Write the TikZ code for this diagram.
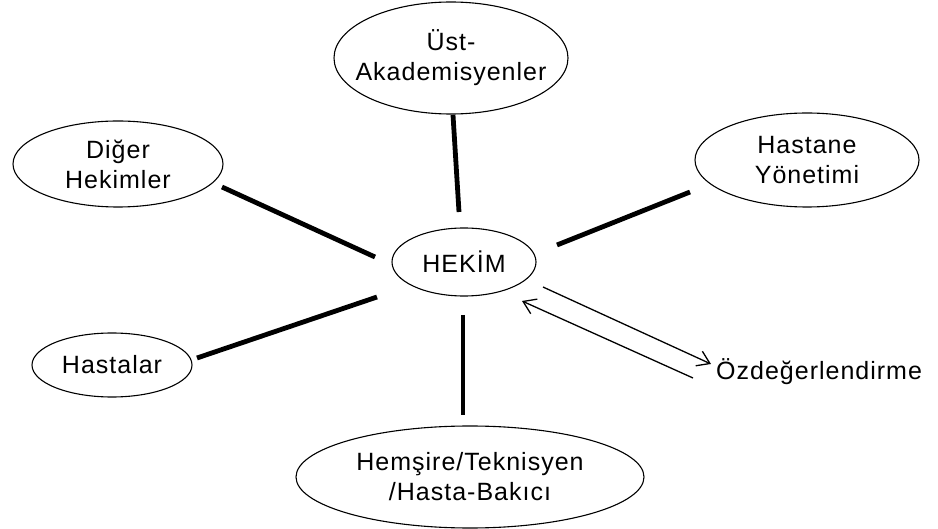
\documentclass[tikz,border=0pt]{standalone}
\usepackage{fontspec}
\setmainfont{Liberation Sans}[LetterSpace=4]
\usetikzlibrary{arrows.meta}
\tikzset{
  labelfont/.style={font=\fontsize{25}{30}\selectfont},
  label text/.style={inner sep=0pt, align=center, labelfont},
  rim/.style={line width=1.1pt},
  tie/.style={line width=4.8pt},
  thin arrow/.style={line width=1.3pt, -{Straight Barb[length=12pt,width=16pt,line width=1.3pt]}},
}
\begin{document}
\begin{tikzpicture}[x=1pt,y=-1pt]
  \useasboundingbox[fill=white] (0,0) rectangle (938,529);

  % surrounding parties
  \node[label text] (ust) at (451,58) {Üst-\\Akademisyenler};
  \node[label text] (diger) at (118,164) {Diğer\\Hekimler};
  \node[label text] (yonetim) at (807,160) {Hastane\\Yönetimi};
  \node[label text] (hasta) at (112,365) {Hastalar};
  \node[label text] (hemsire) at (470,477) {Hemşire/Teknisyen\\/Hasta-Bakıcı};

  % the physician in the middle
  \node[label text] (hekim) at (464,262) {HEKİM};

  % outlines round the labels
  \draw[rim] (ust.center)     ellipse [x radius=117pt, y radius=56pt];
  \draw[rim] (diger.center)   ellipse [x radius=105pt, y radius=43pt];
  \draw[rim] (yonetim.center) ellipse [x radius=112pt, y radius=47pt];
  \draw[rim] (hasta.center)   ellipse [x radius=80pt,  y radius=32pt];
  \draw[rim] (hemsire.center) ellipse [x radius=174pt, y radius=51pt];
  \draw[rim] (hekim.center)   ellipse [x radius=72pt,  y radius=34pt];

  % self-evaluation label
  \node[anchor=west, inner sep=0pt, labelfont] (oz) at (716,372) {Özdeğerlendirme};

  % end points of the links
  \coordinate (u1) at (453,115);  \coordinate (u2) at (459,212);
  \coordinate (d1) at (222,187);  \coordinate (d2) at (375,257);
  \coordinate (y1) at (690,192);  \coordinate (y2) at (557,245);
  \coordinate (h1) at (197,358);  \coordinate (h2) at (377,297);
  \coordinate (s1) at (463,315);  \coordinate (s2) at (463,415);
  \coordinate (a1) at (543,287);  \coordinate (a2) at (711,364);
  \coordinate (b1) at (693,378);  \coordinate (b2) at (522,301);

  \draw[tie] (u1) -- (u2);
  \draw[tie] (d1) -- (d2);
  \draw[tie] (y1) -- (y2);
  \draw[tie] (h1) -- (h2);
  \draw[tie] (s1) -- (s2);

  % feedback loop between HEKİM and Özdeğerlendirme
  \draw[thin arrow] (a1) -- (a2);
  \draw[thin arrow] (b1) -- (b2);
\end{tikzpicture}
\end{document}
